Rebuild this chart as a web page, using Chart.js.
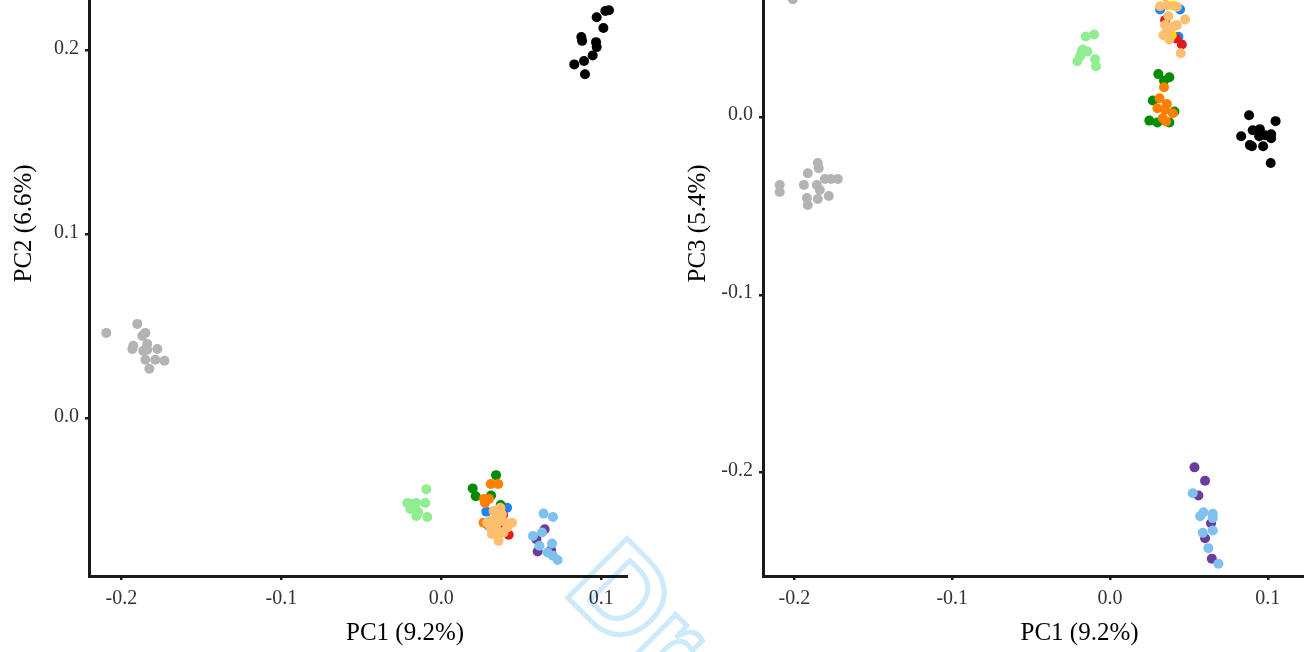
<!DOCTYPE html>
<html><head><meta charset="utf-8">
<script src="https://cdn.jsdelivr.net/npm/chart.js@4.4.1/dist/chart.umd.min.js"></script>
<style>
html,body{margin:0;padding:0;background:#fff;width:1304px;height:652px;overflow:hidden;position:relative}
.wrap{position:absolute;top:0;height:652px;overflow:hidden}
#w1{left:0;width:628px}
#w2{left:628px;width:676px}
canvas{position:absolute;top:-134px}
#c1{left:0}
#c2{left:46px}
#wm{position:absolute;left:0;top:0;pointer-events:none;mix-blend-mode:multiply}
</style></head><body>
<div class="wrap" id="w1"><canvas id="c1" width="740" height="786"></canvas></div>
<div class="wrap" id="w2"><canvas id="c2" width="740" height="786"></canvas></div>
<svg id="wm" width="1304" height="652" xmlns="http://www.w3.org/2000/svg">
  <text x="562" y="592" transform="rotate(45 562 592)" font-family="Liberation Sans" font-weight="bold" font-size="122" fill="none" stroke="#cdeafa" stroke-width="5">Draft</text>
</svg>
<script>
// ---- axis ticks & titles ----
const xTicks = [-0.2, -0.1, 0.0, 0.1];
const yTicksPC2 = [0.0, 0.1, 0.2];
const yTicksPC3 = [-0.2, -0.1, 0.0, 0.1];
const xTitle = 'PC1 (9.2%)';
const yTitlePC2 = 'PC2 (6.6%)';
const yTitlePC3 = 'PC3 (5.4%)';

// ---- group colours (drawing order bottom -> top) ----
const groups = ['blue','red','green','purple','orange','black','gold','skyblue','palegreen','tan','gray'];
const colors = ['#1C86EE','#E31A1C','#008B00','#6A3D9A','#FF7F00','#000000','#FFD700','#7EC0EE','#90EE90','#FDBF6F','#B3B3B3'];

// ---- PC1 vs PC2 (left panel) ----
const gray12 = [[-0.2094,0.0465],[-0.1900,0.0514],[-0.1850,0.0465],[-0.1869,0.0449],[-0.1925,0.0395],[-0.1931,0.0378],[-0.1838,0.0405],[-0.1838,0.0373],[-0.1775,0.0378],[-0.1850,0.0319],[-0.1788,0.0319],[-0.1731,0.0314],[-0.1825,0.0270],[-0.1863,0.0368]];
const black12 = [[0.1025,0.2214],[0.1048,0.2218],[0.0971,0.2180],[0.1013,0.2122],[0.0875,0.2073],[0.0880,0.2052],[0.0967,0.2045],[0.0971,0.2018],[0.0946,0.1973],[0.0892,0.1943],[0.0831,0.1924],[0.0898,0.1871]];
const palegreen12 = [[-0.0094,-0.0384],[-0.0213,-0.0459],[-0.0181,-0.0465],[-0.0156,-0.0459],[-0.0100,-0.0459],[-0.0194,-0.0492],[-0.0144,-0.0508],[-0.0156,-0.0530],[-0.0088,-0.0535]];
const green12 = [[0.0342,-0.0308],[0.0196,-0.0380],[0.0215,-0.0423],[0.0311,-0.0419],[0.0371,-0.0470],[0.0270,-0.0440]];
const orange12 = [[0.0309,-0.0356],[0.0356,-0.0356],[0.0267,-0.0437],[0.0298,-0.0437],[0.0273,-0.0459],[0.0264,-0.0566]];
const blue12 = [[0.0411,-0.0485],[0.0281,-0.0506],[0.0296,-0.0584],[0.0369,-0.0620]];
const red12 = [[0.0421,-0.0632],[0.0386,-0.0524],[0.0400,-0.0595]];
const gold12 = [[0.0338,-0.0629],[0.0364,-0.0539]];
const tan12 = [[0.0327,-0.0503],[0.0344,-0.0530],[0.0379,-0.0521],[0.0306,-0.0557],[0.0286,-0.0566],[0.0338,-0.0575],[0.0386,-0.0557],[0.0442,-0.0566],[0.0411,-0.0593],[0.0317,-0.0629],[0.0358,-0.0665],[0.0389,-0.0620],[0.0348,-0.0602],[0.0306,-0.0593],[0.0369,-0.0485]];
const purple12 = [[0.0646,-0.0602],[0.0594,-0.0656],[0.0686,-0.0715],[0.0602,-0.0723]];
const skyblue12 = [[0.0639,-0.0517],[0.0698,-0.0535],[0.0573,-0.0638],[0.0629,-0.0620],[0.0613,-0.0692],[0.0692,-0.0679],[0.0664,-0.0728],[0.0698,-0.0746],[0.0727,-0.0769]];

// ---- PC1 vs PC3 (right panel) ----
const gray13 = [[-0.2093,-0.0382],[-0.2093,-0.0421],[-0.1940,-0.0382],[-0.1921,-0.0455],[-0.1915,-0.0315],[-0.1915,-0.0494],[-0.1858,-0.0382],[-0.1852,-0.0258],[-0.1852,-0.0461],[-0.1846,-0.0287],[-0.1839,-0.0410],[-0.1807,-0.0348],[-0.1782,-0.0444],[-0.1769,-0.0348],[-0.1725,-0.0348],[-0.2010,0.0665]];
const black13 = [[0.0881,0.0011],[0.1049,-0.0022],[0.0831,-0.0107],[0.0904,-0.0073],[0.0949,-0.0067],[0.0983,-0.0101],[0.1021,-0.0096],[0.0886,-0.0157],[0.0970,-0.0163],[0.1021,-0.0118],[0.1018,-0.0258],[0.0945,-0.0107],[0.0899,-0.0163]];
const palegreen13 = [[-0.0154,0.0455],[-0.0101,0.0466],[-0.0173,0.0382],[-0.0144,0.0371],[-0.0190,0.0343],[-0.0207,0.0315],[-0.0095,0.0326],[-0.0089,0.0287],[-0.0179,0.0371]];
const green13 = [[0.0306,0.0243],[0.0376,0.0225],[0.0342,0.0206],[0.0271,0.0094],[0.0408,0.0032],[0.0249,-0.0019],[0.0300,-0.0030],[0.0376,-0.0030]];
const orange13 = [[0.0342,0.0169],[0.0313,0.0107],[0.0360,0.0075],[0.0300,0.0051],[0.0349,0.0041],[0.0398,0.0022],[0.0334,-0.0006],[0.0355,-0.0024]];
const blue13 = [[0.0444,0.0607],[0.0317,0.0607],[0.0433,0.0453],[0.0380,0.0690]];
const red13 = [[0.0349,0.0547],[0.0417,0.0444],[0.0455,0.0410]];
const gold13 = [[0.0398,0.0630],[0.0391,0.0462]];
const tan13 = [[0.0317,0.0625],[0.0360,0.0631],[0.0423,0.0622],[0.0370,0.0569],[0.0476,0.0551],[0.0349,0.0519],[0.0423,0.0519],[0.0401,0.0510],[0.0360,0.0481],[0.0338,0.0462],[0.0376,0.0438],[0.0448,0.0360],[0.0350,0.0680],[0.0400,0.0700]];
const purple13 = [[0.0535,-0.1972],[0.0602,-0.2047],[0.0560,-0.2131],[0.0640,-0.2287],[0.0602,-0.2371],[0.0645,-0.2487]];
const skyblue13 = [[0.0524,-0.2118],[0.0592,-0.2225],[0.0571,-0.2247],[0.0651,-0.2234],[0.0651,-0.2258],[0.0588,-0.2341],[0.0651,-0.2328],[0.0623,-0.2427],[0.0687,-0.2515]];

const left = {blue:blue12, red:red12, green:green12, purple:purple12, orange:orange12, black:black12, gold:gold12, skyblue:skyblue12, palegreen:palegreen12, tan:tan12, gray:gray12};
const right = {blue:blue13, red:red13, green:green13, purple:purple13, orange:orange13, black:black13, gold:gold13, skyblue:skyblue13, palegreen:palegreen13, tan:tan13, gray:gray13};

const FONT = 'Liberation Serif';

function datasets(src) {
  return groups.map((g, i) => ({
    label: g,
    data: src[g].map(([x, y]) => ({x, y})),
    backgroundColor: colors[i],
    borderWidth: 0,
    pointRadius: 5,
    pointHoverRadius: 5,
    order: groups.length - i
  }));
}

function axis(min, max, ticks, title, isY) {
  return {
    type: 'linear',
    min, max,
    afterBuildTicks: s => { s.ticks = ticks.map(v => ({value: v})); },
    afterFit: s => {
      if (isY) { s.width = 89; s.paddingTop = 0; s.paddingBottom = 0; }
      else { s.height = 76; s.paddingLeft = 0; s.paddingRight = 0; }
    },
    ticks: {
      callback: v => Number(v).toFixed(1),
      font: {family: FONT, size: 20},
      color: '#333333',
      padding: isY ? 6 : 7,
      labelOffset: isY ? -2 : 0,
      maxRotation: 0,
      autoSkip: false
    },
    grid: {drawOnChartArea: false, drawTicks: true, tickLength: 4, lineWidth: 2.5, color: '#1a1a1a'},
    border: {display: true, width: 3, color: '#1a1a1a'},
    title: {
      display: true, text: title, color: '#000',
      font: {family: FONT, size: 25},
      padding: isY ? {top: 9, bottom: 0} : {top: 0, bottom: 4}
    }
  };
}

function build(id, src, xr, yr, yTicks, yTitle, padRight) {
  new Chart(document.getElementById(id), {
    type: 'scatter',
    data: {datasets: datasets(src)},
    options: {
      responsive: false, animation: false, devicePixelRatio: 1, events: [],
      layout: {padding: {left: 0, top: 0, right: padRight, bottom: 0}},
      plugins: {legend: {display: false}, tooltip: {enabled: false}},
      scales: {
        x: axis(xr[0], xr[1], xTicks, xTitle, false),
        y: axis(yr[0], yr[1], yTicks, yTitle, true)
      }
    }
  });
}

build('c1', left, [-0.2202, 0.1748], [-0.0856, 0.2975], yTicksPC2, yTitlePC2, 19);
build('c2', right, [-0.2199, 0.1812], [-0.2584, 0.1387], yTicksPC3, yTitlePC3, 18);
</script>
</body></html>
